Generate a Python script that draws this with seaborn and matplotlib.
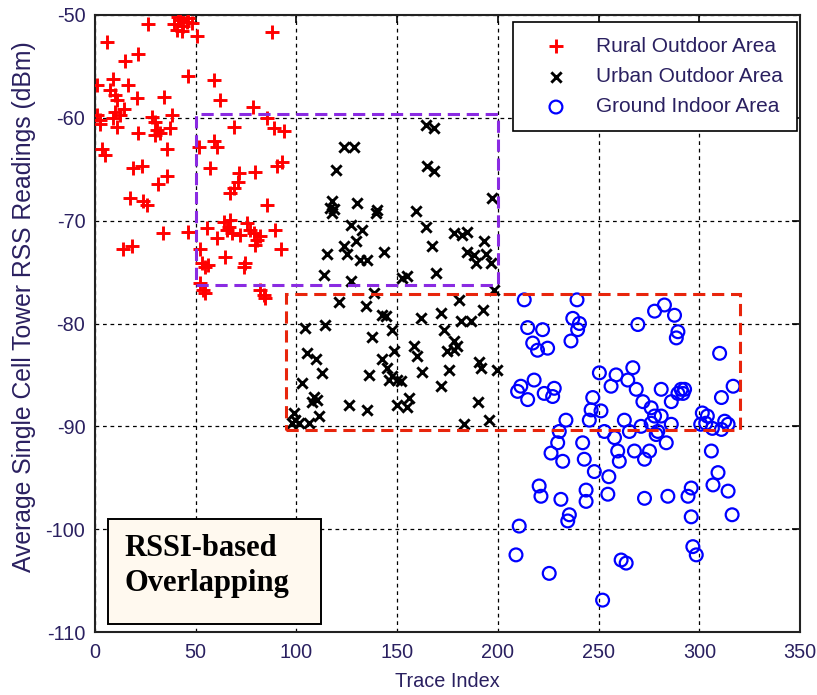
import matplotlib
matplotlib.use("Agg")
import matplotlib.pyplot as plt
import seaborn as sns
import pandas as pd
from matplotlib.patches import Rectangle

# ---------------- data ----------------
rural_x = [26.5, 39, 42.3, 43.9, 45.6, 48.1, 40.6, 43.1, 41.4, 46.4, 50.6, 87.9, 6.1, 21.5, 14.9,
           46.4, 58.9, 1.2, 9.1, 16.6, 7.5, 10, 10.8, 20.7, 34.3, 62.2, 78.3, 0.8, 2.5, 2.5,
           10, 12.4, 9.1, 10.8, 14.6, 28.2, 29.9, 30.7, 29.9, 32.3, 38.1, 37.3, 21.5, 51.4,
           58.9, 60.5, 68.8, 85.4, 88.7, 93.7, 3.3, 5, 35.7, 18.7, 23.2, 56.9, 71.3, 70.8,
           68.8, 67.2, 79.6, 90.4, 92.9, 31.5, 35.7, 17.4, 24, 25.7, 85.4, 33.7, 46.4, 14.1,
           18.3, 55.6, 60.5, 63.8, 65.5, 67.2, 66.3, 68, 72.1, 75.5, 77.1, 78.8, 80.4, 82.1,
           79.6, 89.6, 92.2, 64.7, 52.2, 53.1, 54.7, 56, 73.8, 74.5, 52.2, 53.8, 54.7, 82.1,
           83.7, 84.6]
rural_y = [-50.9, -50.9, -50.5, -51.1, -50.7, -50.8, -51.5, -51.6, -50.2, -50.3, -52, -51.7, -52.6, -53.8, -54.5,
           -55.9, -56.3, -56.8, -56.2, -56.8, -57.3, -57.8, -58.3, -58.1, -58, -58.3, -58.9, -59.7, -60.2, -60.6,
           -59.4, -59.7, -60, -60.9, -59.1, -59.9, -60.4, -61.2, -61.7, -61.5, -59.7, -61, -61.5, -62.8,
           -62.3, -62.8, -60.9, -60, -61, -61.3, -63, -63.6, -63, -64.9, -64.7, -64.9, -65.4, -66.2,
           -66.8, -67.3, -65.3, -64.7, -64.3, -66.4, -65.7, -67.8, -68.1, -68.5, -68.5, -71.2, -71.1, -72.8,
           -72.5, -70.7, -71.7, -70.1, -70.9, -69.9, -70.6, -71.2, -71.4, -70.2, -70.9, -71.2, -71.9, -71.5,
           -72.4, -70.9, -72.8, -73.5, -72.8, -74.1, -74.5, -74.3, -74.5, -74.1, -76.1, -76.7, -77, -76.7,
           -77.2, -77.5]

urban_x = [123.5, 128.5, 164.2, 168.3, 119.4, 165, 168.3, 197.3, 117.8, 116.9, 117.8, 118.6, 130.2,
           140.1, 139.3, 159.2, 126.9, 132.7, 164.2, 178.3, 182.4, 184.9, 129.4, 123.5, 125.2, 115.3,
           143.4, 167.5, 184.9, 188.2, 193.2, 194, 189, 196.5, 131.8, 135.2, 113.6, 126.9, 152.5, 155,
           169.2, 198, 121, 134.3, 138.5, 180.7, 192.4, 142.6, 144.3, 161.7, 171.6, 181.6, 186.6,
           104.5, 114.4, 137.7, 147.6, 173.3, 178.3, 158.4, 160, 174.9, 178.3, 179.9, 105.3, 109.5,
           148.4, 142.6, 190.7, 191.5, 175.8, 162.5, 199.8, 112.8, 136, 145.1, 147.6, 145.9, 150.1,
           151.7, 102.8, 171.6, 108.6, 110.3, 107.8, 126, 135.2, 150.1, 155, 155.9, 189.9, 111.1,
           98.7, 99.5, 101.2, 97.9, 195.7, 183.2, 106.1]
urban_y = [-62.8, -62.8, -60.7, -61, -65.1, -64.7, -65.2, -67.8, -68.1, -68.8, -69.3, -68.9, -68.3,
           -69, -69.3, -69.1, -70.4, -70.9, -70.6, -71.2, -71.4, -71.1, -72, -72.5, -73.2, -73.2,
           -73, -72.5, -73, -73.3, -72, -73.2, -74.1, -74.1, -73.8, -73.8, -75.3, -75.9, -75.6, -75.4,
           -75.1, -76.7, -77.9, -78.3, -77, -77.7, -78.7, -79.2, -79.3, -79.5, -79, -79.8, -79.8,
           -80.4, -80.1, -81.3, -80.6, -80.6, -81.7, -82.2, -83.2, -82.7, -82.6, -82.2, -82.9, -83.5,
           -82.7, -83.5, -83.7, -84.3, -84.5, -84.7, -84.5, -84.8, -85, -84.3, -85.1, -85.5, -85.5,
           -85.6, -85.8, -86.1, -87.1, -87.4, -87.6, -87.9, -88.4, -87.9, -88.1, -87.2, -87.6, -89,
           -88.7, -89.4, -89.7, -89.7, -89.4, -89.8, -89.7]

indoor_x = [213.1, 239.3, 277.8, 282.7, 287.7, 269.5, 237.2, 240.5, 239.6, 236.3, 214.8, 222.2, 217.3,
            219.7, 224.7, 289.4, 288.6, 310.1, 250.4, 258.7, 267, 264.5, 256.2, 268.7, 211.4, 218,
            209.8, 214.8, 223, 228, 227.2, 281.1, 286.1, 291, 292.7, 291.9, 289.4, 272, 311, 316.8,
            247.1, 246.3, 251.2, 245.4, 276.1, 277.8, 281.1, 301.5, 304, 303.2, 300.7, 312.6, 314.3,
            306.5, 311, 233.8, 262.8, 271.1, 286.1, 276.1, 279.4, 230.5, 229.7, 226.4, 232.2, 242.1,
            242.9, 252.9, 257.9, 259.5, 260.3, 265.3, 267.8, 272.8, 275.3, 283.6, 278.6, 306, 247.9,
            255.1, 220.5, 221.4, 231.3, 243.8, 243.8, 254.6, 272.8, 284.4, 294.4, 296, 306.8, 309.3,
            314.3, 296, 316.3, 235.5, 234.7, 210.6, 209, 225.5, 261.2, 263.7, 296.8, 298.5, 252]
indoor_y = [-77.7, -77.7, -78.8, -78.2, -79.2, -80.1, -79.5, -80, -80.6, -81.7, -80.4, -80.6, -81.9,
            -82.6, -82.4, -80.8, -81.4, -82.9, -84.8, -85, -84.3, -85.5, -86.1, -86.4, -86.1, -85.5,
            -86.6, -87.4, -86.8, -86.3, -87.1, -86.4, -87.6, -86.4, -86.4, -86.8, -86.8, -87.6, -87.2, -86.1,
            -87.2, -88.4, -88.5, -89.4, -88.2, -89, -89, -88.7, -89, -89.7, -89.8, -89.5, -89.8,
            -90.2, -90.3, -89.4, -89.4, -90, -89.8, -89.7, -90.5, -90.5, -91.6, -92.6, -93.4, -91.6,
            -93.2, -90.5, -91.1, -92.4, -93.4, -90.5, -92.4, -93.2, -92.4, -91.6, -90.8, -92.4, -94.4,
            -94.9, -95.8, -96.8, -97.1, -96.2, -97.3, -96.6, -97, -96.8, -96.8, -96, -95.7, -94.5,
            -96.3, -98.8, -98.6, -98.6, -99.2, -99.7, -102.5, -104.3, -103, -103.3, -101.7, -102.5, -106.9]

labels = ["Rural Outdoor Area", "Urban Outdoor Area", "Ground Indoor Area"]
x_ticks = [0, 50, 100, 150, 200, 250, 300, 350]
y_ticks = [-110, -100, -90, -80, -70, -60, -50]

# rectangles (data units)
purple_box = (50, -76.3, 150, 16.7)
red_box = (95, -90.4, 225, 13.3)
note_box = (6.5, -109.2, 105.5, 10.2)

# ---------------- plot ----------------
sns.set_style("white")
plt.rcParams['font.family'] = ['Liberation Sans', 'DejaVu Sans']
plt.rcParams['axes.unicode_minus'] = False

fig = plt.figure(figsize=(8.17, 6.95), dpi=100)
ax = fig.add_axes([95/817, 1-632/695, (800-95)/817, (632-15)/695])

df_r = pd.DataFrame({"x": rural_x, "y": rural_y})
df_u = pd.DataFrame({"x": urban_x, "y": urban_y})
df_i = pd.DataFrame({"x": indoor_x, "y": indoor_y})

sns.scatterplot(data=df_r, x="x", y="y", marker="+", color="#ff0000", s=115,
                linewidth=2.1, ax=ax, label=labels[0], zorder=3)
sns.scatterplot(data=df_u, x="x", y="y", marker="x", color="black", s=55,
                linewidth=2.1, ax=ax, label=labels[1], zorder=3)
sns.scatterplot(data=df_i, x="x", y="y", marker="o", facecolor="none", edgecolor="#0000ff",
                s=85, linewidth=1.6, ax=ax, label=labels[2], zorder=3)

ax.add_patch(Rectangle(purple_box[:2], purple_box[2], purple_box[3], fill=False,
                       edgecolor="#8a2be2", linewidth=2.2, linestyle=(0, (4, 2.2)), zorder=4))
ax.add_patch(Rectangle(red_box[:2], red_box[2], red_box[3], fill=False,
                       edgecolor="#e8250c", linewidth=2.2, linestyle=(0, (4, 2.2)), zorder=4))

ax.set_xlim(0, 350)
ax.set_ylim(-110, -50)
ax.set_xticks(x_ticks)
ax.set_yticks(y_ticks)
ax.grid(True, color="black", linestyle=(0, (3, 3)), linewidth=0.9)
ax.set_axisbelow(True)
tick_color = "#2a2060"
ax.tick_params(direction="in", length=6, width=1.2, top=True, right=True,
               labelsize=14.3, labelcolor=tick_color, color="black")
ax.tick_params(axis="x", pad=8)
ax.tick_params(axis="y", pad=7)
for sp in ax.spines.values():
    sp.set_color("#222222")
    sp.set_linewidth(1.5)
    sp.set_visible(True)

ax.set_xlabel("Trace Index", fontsize=14.3, color=tick_color, labelpad=7)
ax.set_ylabel("Average Single Cell Tower RSS Readings (dBm)", fontsize=17.8,
              color=tick_color, va="center")
ax.yaxis.set_label_coords(-0.1007, 0.527)

leg = ax.legend(loc="upper right", bbox_to_anchor=(797/817, 1-22/695),
                bbox_transform=fig.transFigure, borderaxespad=0,
                frameon=True, fancybox=False, edgecolor="black",
                facecolor="white", framealpha=1, fontsize=15,
                handletextpad=0.55, labelspacing=0.55, borderpad=0.7, handlelength=2.7)
leg.get_frame().set_linewidth(1.2)
for t in leg.get_texts():
    t.set_color(tick_color)

ax.add_patch(Rectangle(note_box[:2], note_box[2], note_box[3], facecolor="#fff9ef",
                       edgecolor="black", linewidth=1.4, zorder=5))
ax.text(14.4, -103.6, "RSSI-based\nOverlapping", fontsize=22, fontweight="bold",
        family=["Liberation Serif", "DejaVu Serif"], color="black", va="center", ha="left",
        linespacing=1.3, zorder=6)

fig.savefig("out.png", dpi=100)
